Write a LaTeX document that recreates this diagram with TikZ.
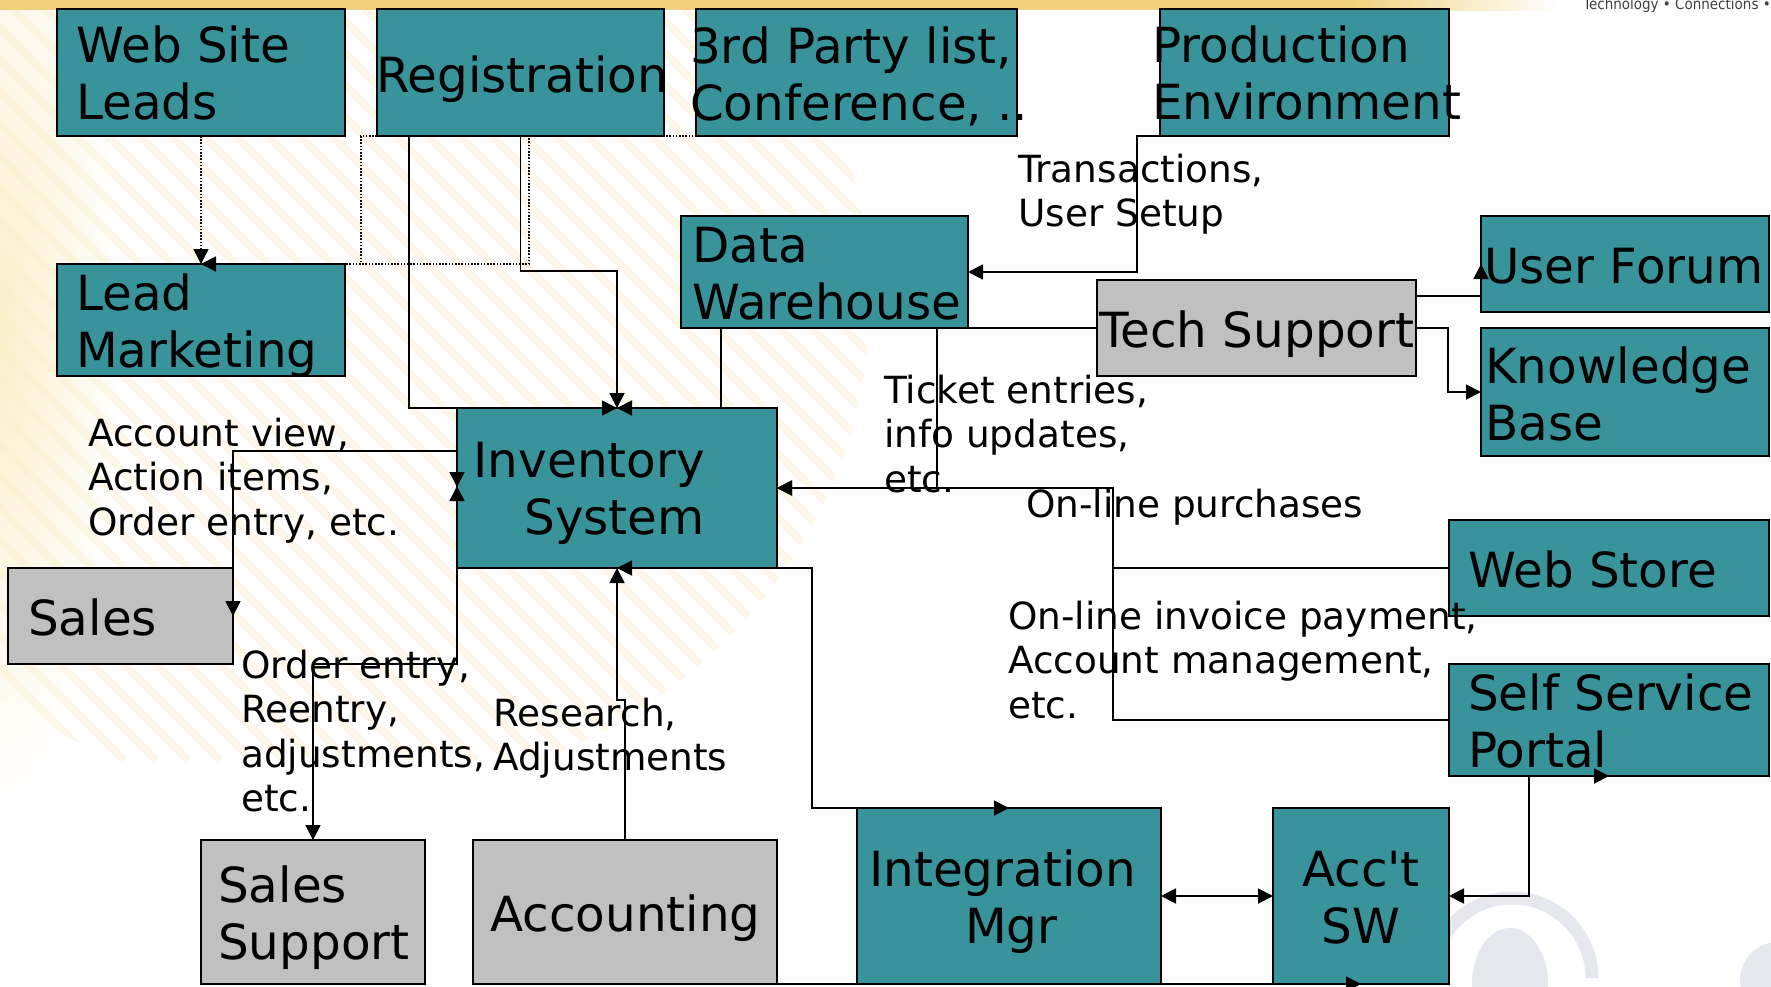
\documentclass[tikz,border=0pt]{standalone}
\usepackage{fontspec}
\setmainfont{DejaVu Sans}
\newfontfamily\condfont{DejaVu Sans Condensed}
\usetikzlibrary{arrows.meta,calc}
\definecolor{boxteal}{HTML}{38939B}
\definecolor{boxgray}{HTML}{C0C0C0}
\definecolor{bandgold}{HTML}{F0D27E}
\definecolor{paleyellow}{HTML}{FBEFCB}
\definecolor{logoblue}{HTML}{E5E9EF}
\begin{document}
\begin{tikzpicture}[x=1pt,y=-1pt,
  boxbase/.style={draw=black, line width=2pt, rectangle, inner sep=0pt, outer sep=0pt},
  tealbox/.style={boxbase, fill=boxteal},
  graybox/.style={boxbase, fill=boxgray},
  flow/.style={draw=black, line width=1.8pt, line join=miter},
  dotflow/.style={draw=black, line width=1.6pt, dash pattern=on 1.6pt off 1.6pt},
  headend/.style={-{Triangle[length=15pt,width=15pt]}},
  headboth/.style={{Triangle[length=15pt,width=15pt]}-{Triangle[length=15pt,width=15pt]}},
  boxtext/.style={inner sep=0pt, font=\fontsize{48.4}{57}\selectfont},
  labeltext/.style={inner sep=0pt, font=\fontsize{37.4}{44.5}\selectfont},
]
\useasboundingbox (0,0) rectangle (1771,986);
\fill[white] (0,0) rectangle (1771,986);

% backdrop: warm band along the top, faint striped globe at upper left
\begin{scope}
  \clip (0,0) rectangle (1771,986);
  \shade[inner color=paleyellow, outer color=white] (0,330) ellipse [x radius=120, y radius=470];
  \begin{scope}
    \clip (330,300) ellipse [x radius=540, y radius=500];
    \foreach \s in {-700,-668,...,900}
      \draw[paleyellow, line width=8pt, opacity=0.4] (\s,0) -- ++(760,760);
  \end{scope}
  \fill[bandgold] (0,0) rectangle (1350,10);
  \shade[left color=bandgold, right color=white] (1350,0) rectangle (1560,10);
  % pale emblem at lower right
  \draw[logoblue, line width=13pt] (1432,978) arc[start angle=180, end angle=360, radius=80];
  \fill[logoblue] (1510,984) ellipse [x radius=38, y radius=56];
  \fill[logoblue] (1778,980) circle [radius=38];
\end{scope}
\node[anchor=base east, inner sep=0pt, text=black!75,
      font=\condfont\fontsize{15}{18}\selectfont] (tagline) at (1771,9) {Technology • Connections •};

% boxes
\node[tealbox, minimum width=288pt, minimum height=127pt] (web)   at (201,72.5)   {};
\node[tealbox, minimum width=287pt, minimum height=127pt] (reg)   at (520.5,72.5) {};
\node[tealbox, minimum width=321pt, minimum height=127pt] (party) at (856.5,72.5) {};
\node[tealbox, minimum width=289pt, minimum height=127pt] (prod)  at (1304.5,72.5) {};
\node[tealbox, minimum width=287pt, minimum height=112pt] (dw)    at (824.5,272)  {};
\node[graybox, minimum width=319pt, minimum height=96pt]  (tech)  at (1256.5,328) {};
\node[tealbox, minimum width=288pt, minimum height=96pt]  (forum) at (1625,264)   {};
\node[tealbox, minimum width=288pt, minimum height=128pt] (kb)    at (1625,392)   {};
\node[tealbox, minimum width=288pt, minimum height=112pt] (lead)  at (201,320)    {};
\node[tealbox, minimum width=320pt, minimum height=160pt] (inv)   at (617,488)    {};
\node[graybox, minimum width=225pt, minimum height=96pt]  (sales) at (120.5,616)  {};
\node[graybox, minimum width=224pt, minimum height=144pt] (ssup)  at (313,912)    {};
\node[graybox, minimum width=304pt, minimum height=144pt] (acct)  at (625,912)    {};
\node[tealbox, minimum width=304pt, minimum height=176pt] (integ) at (1009,896)   {};
\node[tealbox, minimum width=176pt, minimum height=176pt] (sw)    at (1361,896)   {};
\node[tealbox, minimum width=320pt, minimum height=96pt]  (store) at (1609,568)   {};
\node[tealbox, minimum width=320pt, minimum height=112pt] (ssp)   at (1609,720)   {};

% box captions
\node[boxtext, anchor=base west] (webT)   at (76,62.5)  {\begin{tabular}[t]{@{}l@{}}Web Site\\Leads\end{tabular}};
\node[boxtext, anchor=base west] (regT)   at (376,92)   {Registration};
\node[boxtext, anchor=base west] (partyT) at (690,63)   {\begin{tabular}[t]{@{}l@{}}3rd Party list,\\Conference, ..\end{tabular}};
\node[boxtext, anchor=base west] (prodT)  at (1152,62)  {\begin{tabular}[t]{@{}l@{}}Production\\Environment\end{tabular}};
\node[boxtext, anchor=base west] (dwT)    at (692,262)  {\begin{tabular}[t]{@{}l@{}}Data\\Warehouse\end{tabular}};
\node[boxtext, anchor=base west] (techT)  at (1099,347)  {Tech Support};
\node[boxtext, anchor=base west] (forumT) at (1484,283)  {User Forum};
\node[boxtext, anchor=base west] (kbT)    at (1485,383)  {\begin{tabular}[t]{@{}l@{}}Knowledge\\Base\end{tabular}};
\node[boxtext, anchor=base west] (leadT)  at (76,310)    {\begin{tabular}[t]{@{}l@{}}Lead\\Marketing\end{tabular}};
\node[boxtext, anchor=base east] (invT)   at (705,477)   {\begin{tabular}[t]{@{}r@{}}Inventory\\System\end{tabular}};
\node[boxtext, anchor=base west] (salesT) at (28,635)    {Sales};
\node[boxtext, anchor=base west] (ssupT)  at (218,902)   {\begin{tabular}[t]{@{}l@{}}Sales\\Support\end{tabular}};
\node[boxtext, anchor=base west] (acctT)  at (490,931)   {Accounting};
\node[boxtext, anchor=base west] (integT) at (869,886)   {\begin{tabular}[t]{@{}l@{}}Integration\\\hspace{96pt}Mgr\end{tabular}};
\node[boxtext, anchor=base]      (swT)    at (1361,886)  {\begin{tabular}[t]{@{}c@{}}Acc\textquotesingle t\\SW\end{tabular}};
\node[boxtext, anchor=base west] (storeT) at (1468,587)  {Web Store};
\node[boxtext, anchor=base west] (sspT)   at (1468,710)  {\begin{tabular}[t]{@{}l@{}}Self Service\\Portal\end{tabular}};

% flow labels
\node[labeltext, anchor=base west] (lbTrans)    at (1018,182) {\begin{tabular}[t]{@{}l@{}}Transactions,\\User Setup\end{tabular}};
\node[labeltext, anchor=base west] (lbTicket)   at (884,403)  {\begin{tabular}[t]{@{}l@{}}Ticket entries,\\info updates,\\etc.\end{tabular}};
\node[labeltext, anchor=base west] (lbPurchase) at (1026,517) {On-line purchases};
\node[labeltext, anchor=base west] (lbInvoice)  at (1008,629) {\begin{tabular}[t]{@{}l@{}}On-line invoice payment,\\Account management,\\etc.\end{tabular}};
\node[labeltext, anchor=base west] (lbAccount)  at (88,446)   {\begin{tabular}[t]{@{}l@{}}Account view,\\Action items,\\Order entry, etc.\end{tabular}};
\node[labeltext, anchor=base west] (lbOrder)    at (241,678)  {\begin{tabular}[t]{@{}l@{}}Order entry,\\Reentry,\\adjustments,\\etc.\end{tabular}};
\node[labeltext, anchor=base west] (lbResearch) at (493,726)  {\begin{tabular}[t]{@{}l@{}}Research,\\Adjustments\end{tabular}};

% junction points
\coordinate (prodBend) at (1137,136);
\coordinate (ticketTop) at (937,328);
\coordinate (ticketBot) at (937,488);
\coordinate (webBus) at (1113,568);
\coordinate (dwDrop) at (721,328);
\coordinate (regLeft) at (409,136);
\coordinate (salesLoop) at (457,451);
\coordinate (invLeftDn) at (457,487);
\coordinate (invLeftUp) at (457,486);
\coordinate (orderCorner) at (457,664);
\coordinate (imBend) at (812,568);
\coordinate (sspBend) at (1529,896);

% lead feeds (dotted)
\draw[dotflow, headend] (web.south) -- (lead.north);
\draw[dotflow] (reg.south west) -- (361,136) -- (361,264);
\draw[dotflow, headend] (party.south) -- (529,136) -- (529,264) -- (lead.north);

% solid flows
\draw[flow, headend] (prod.south) -- (prodBend) |- (dw.east);
\draw[flow, headend] (tech.west) -- (ticketTop) -- (ticketBot) -- (inv.east);
\draw[flow, headend] (store.west) -- (webBus) |- (inv.east);
\draw[flow] (ssp.west) -| (webBus);
\draw[flow, headend] ($(tech.east)+(0,-32)$) -| (forum.west);
\draw[flow, headend] (tech.east) -- (1448,328) |- (kb.west);
\draw[flow, headend] (dwDrop) |- (inv.north);
\draw[flow, headend] (regLeft) |- (inv.north);
\draw[flow, headend] (reg.south) |- (617,271) -- (inv.north);
\draw[flow, headboth] (invLeftDn) -- (salesLoop) -| (sales.east);
\draw[flow, headboth] (invLeftUp) -- (orderCorner) -| (ssup.north);
\draw[flow, headend] (acct.north) -- (625,700) -- (617,700) -- (inv.south);
\draw[flow, headboth] (inv.south) -- (imBend) |- (integ.north);
\draw[flow, headboth] (integ.east) -- (sw.west);
\draw[flow, headboth] (sw.east) -- (sspBend) |- (ssp.south);
\draw[flow, headend] (acct.south) -- (sw.south);
\end{tikzpicture}
\end{document}
